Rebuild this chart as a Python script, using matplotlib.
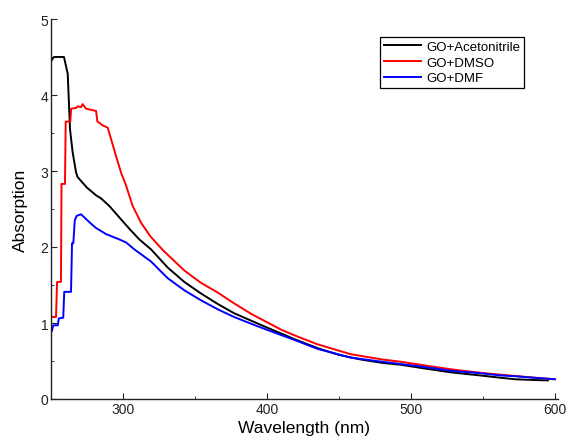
import matplotlib
matplotlib.use("Agg")
import matplotlib.pyplot as plt
from matplotlib.ticker import MultipleLocator

plt.rcParams['font.family'] = ['Liberation Sans', 'DejaVu Sans']

# ---- data (wavelength nm, absorption) ----
acn_x = [250.5, 252, 259, 261.6, 263.2, 265, 267.4, 268.5, 270.8, 275, 281.3, 284.7,
         290.5, 297.4, 304.4, 311.3, 319.4, 331, 342.6, 354, 365.8, 377, 389, 400, 410,
         420, 435, 450, 465, 480, 493, 510, 528, 548, 562, 572, 585, 595]
acn_y = [4.46, 4.5, 4.5, 4.28, 3.55, 3.25, 2.98, 2.92, 2.87, 2.78, 2.68, 2.64,
         2.54, 2.39, 2.24, 2.10, 1.97, 1.73, 1.54, 1.39, 1.25, 1.13, 1.03, 0.94, 0.86,
         0.78, 0.67, 0.58, 0.52, 0.475, 0.45, 0.40, 0.35, 0.31, 0.28, 0.26, 0.25, 0.245]

dmso_x = [250.5, 253.5, 254.2, 256.9, 257.3, 259.7, 260.2, 263.4, 264.0, 267.4, 268.5,
          270.8, 272, 274.3, 281.3, 282.2, 283.1, 285.9, 289.4, 291.7, 295.1, 298.6,
          302.1, 306.7, 312.5, 319, 327.6, 342.6, 354, 365.8, 377, 389, 400, 410, 420,
          435, 458, 480, 493, 510, 528, 548, 562, 580, 599]
dmso_y = [1.08, 1.08, 1.54, 1.54, 2.83, 2.83, 3.65, 3.65, 3.82, 3.83, 3.85,
          3.84, 3.88, 3.82, 3.79, 3.65, 3.64, 3.60, 3.57, 3.42, 3.20, 2.98,
          2.81, 2.54, 2.32, 2.14, 1.96, 1.69, 1.53, 1.40, 1.26, 1.12, 1.01, 0.91, 0.83,
          0.72, 0.59, 0.52, 0.49, 0.44, 0.39, 0.345, 0.32, 0.29, 0.26]

dmf_x = [250.5, 251.6, 254.7, 255.4, 258.5, 259.2, 263.9, 264.6, 265.5, 266.5, 267.8,
         270.8, 273.1, 277, 281.3, 288.2, 297.4, 302.1, 307.8, 319.4, 331, 342.6, 354,
         365.8, 377, 389, 400, 410, 420, 435, 458, 480, 493, 510, 528, 548, 562, 572,
         585, 600]
dmf_y = [0.89, 0.97, 0.97, 1.06, 1.07, 1.41, 1.41, 2.05, 2.05, 2.35, 2.41,
         2.43, 2.39, 2.32, 2.25, 2.17, 2.10, 2.06, 1.97, 1.81, 1.59, 1.43, 1.30,
         1.18, 1.08, 0.99, 0.91, 0.84, 0.77, 0.66, 0.545, 0.49, 0.46, 0.42, 0.37, 0.34,
         0.31, 0.30, 0.28, 0.26]

fig = plt.figure(figsize=(5.68, 4.39), dpi=100)
ax = fig.add_axes([51 / 568, 39 / 439, 507 / 568, 380 / 439])

ax.plot(acn_x, acn_y, color="black", lw=1.4, label="GO+Acetonitrile")
ax.plot(dmso_x, dmso_y, color="red", lw=1.4, label="GO+DMSO")
ax.plot(dmf_x, dmf_y, color="blue", lw=1.4, label="GO+DMF")

ax.set_xlim(250, 602)
ax.set_ylim(0, 5)
ax.xaxis.set_major_locator(MultipleLocator(100))
ax.xaxis.set_minor_locator(MultipleLocator(50))
ax.yaxis.set_major_locator(MultipleLocator(1))
ax.yaxis.set_minor_locator(MultipleLocator(0.5))
ax.tick_params(which="both", direction="in", labelsize=10, pad=2, colors="#222222")
ax.tick_params(which="major", length=4)
ax.tick_params(which="minor", length=2.5)
ax.spines["top"].set_visible(False)
ax.spines["right"].set_visible(False)
for s in ("left", "bottom"):
    ax.spines[s].set_linewidth(1.0)
    ax.spines[s].set_color("#222222")

ax.set_xlabel("Wavelength (nm)", fontsize=12.5, labelpad=3)
ax.set_ylabel("Absorption", fontsize=12.5, labelpad=9)

leg = ax.legend(loc="upper right", bbox_to_anchor=(0.933, 0.953), borderaxespad=0,
                fontsize=9.5, handlelength=2.8, handletextpad=0.4, labelspacing=0.25,
                borderpad=0.3, fancybox=False, framealpha=1)
leg.get_frame().set_edgecolor("black")
leg.get_frame().set_linewidth(0.9)

fig.savefig("out.png", dpi=100)
